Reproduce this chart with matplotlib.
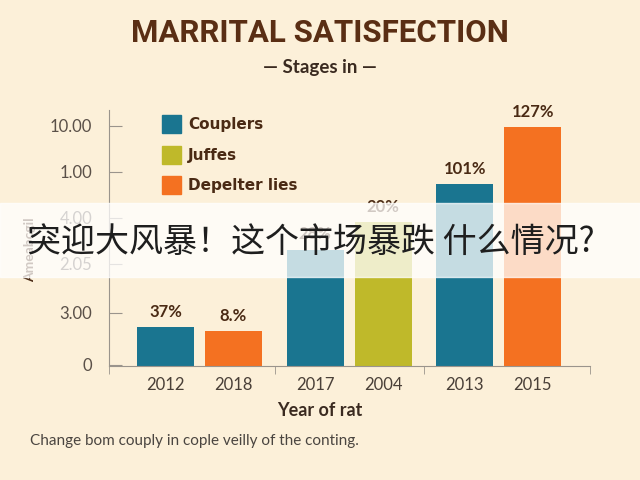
import matplotlib
matplotlib.use('Agg')
from matplotlib import pyplot as plt
from matplotlib.patches import Rectangle

# data
years = ['2012', '2018', '2017', '2004', '2013', '2015']
groups = [0, 0, 1, 1, 2, 2]
heights = [15.3, 13.7, 45.5, 56.1, 71.0, 93.3]
bar_labels = ['37%', '8.%', '28%', '20%', '101%', '127%']
kinds = ['Couplers', 'Depelter lies', 'Couplers', 'Juffes', 'Couplers', 'Depelter lies']
legend_names = ['Couplers', 'Juffes', 'Depelter lies']
ytick_pos = [0.4, 20.8, 40.0, 58.0, 76.0, 94.0]
ytick_labels = ['0', '3.00', '2.05', '4.00', '1.00', '10.00']

colors = {'Couplers': '#1a7590', 'Juffes': '#bfb92a', 'Depelter lies': '#f47121'}
bg = '#fcf0d9'
brown = '#4a2a14'

plt.rcParams['font.family'] = ['Lato', 'DejaVu Sans']

fig = plt.figure(figsize=(6.4, 4.8), dpi=100, facecolor=bg)
ax = fig.add_axes([0.1703, 0.2375, 0.7515, 0.533])
ax.set_facecolor(bg)

x = [i + 0.2 * g for i, g in enumerate(groups)]
for xi, h, k, lab in zip(x, heights, kinds, bar_labels):
    ax.bar(xi, h, width=0.84, color=colors[k], zorder=2)
    ax.annotate(lab, (xi, h), xytext=(0, 11), textcoords='offset points',
                ha='center', va='center', fontsize=12, fontweight='bold',
                color=brown)

ax.set_xlim(-0.83, 6.24)
ax.set_ylim(0, 100)
ax.set_xticks(x)
ax.set_xticklabels(years, fontsize=12, color='#4a4038')
ax.tick_params(axis='x', length=0, pad=8)
ax.set_xticks([-0.83, 1.61, 3.80, 6.24], minor=True)
ax.tick_params(axis='x', which='minor', length=6, color='#9a948c', direction='out')
ax.set_yticks(ytick_pos)
ax.set_yticklabels(ytick_labels, fontsize=12, color='#5a5048')
ax.tick_params(axis='y', length=9, direction='in', color='#9a948c', pad=12)
for s in ['top', 'right']:
    ax.spines[s].set_visible(False)
for s in ['left', 'bottom']:
    ax.spines[s].set_color('#9a948c')

# legend as squares next to the axis
leg_y = [124, 155, 185]
for name, yy in zip(legend_names, leg_y):
    fy = 1 - yy / 480
    fig.patches.append(Rectangle((162 / 640, fy - 9 / 480), 19 / 640, 18 / 480,
                                 transform=fig.transFigure, color=colors[name]))
    fig.text(188 / 640, fy, name, fontsize=11, fontweight='bold', color=brown,
             va='center', ha='left', family=['DejaVu Sans'])

fig.text(0.5, 1 - 33 / 480, 'MARRITAL SATISFECTION', fontsize=22.5, fontweight='bold',
         color='#5a2e14', ha='center', va='center', family=['Roboto', 'DejaVu Sans'])
fig.text(0.5, 1 - 68 / 480, '— Stages in —', fontsize=13.5, fontweight='bold',
         color='#3a2a20', ha='center', va='center')
fig.text(30 / 640, 1 - 250 / 480, 'Ameabcgil', rotation=90, fontsize=10,
         fontweight='bold', color=brown, ha='center', va='center')
fig.text(0.5, 1 - 411 / 480, 'Year of rat', fontsize=13, fontweight='bold',
         color='#3a2a20', ha='center', va='center')
fig.text(30 / 640, 1 - 441 / 480, 'Change bom couply in cople veilly of the conting.',
         fontsize=11, color='#4a4540', ha='left', va='center')

# white overlay band with headline
fig.patches.append(Rectangle((0, 1 - 277 / 480), 1, 74 / 480, transform=fig.transFigure,
                             color='white', alpha=0.75, zorder=5))
fig.text(27 / 640, 1 - 242 / 480, '突迎大风暴！这个市场暴跌 什么情况?', fontsize=24.5,
         color='#1e1e1e', ha='left', va='center', zorder=6,
         family=['Noto Sans CJK SC', 'DejaVu Sans'])

fig.savefig('out.png', dpi=100, facecolor=bg)
